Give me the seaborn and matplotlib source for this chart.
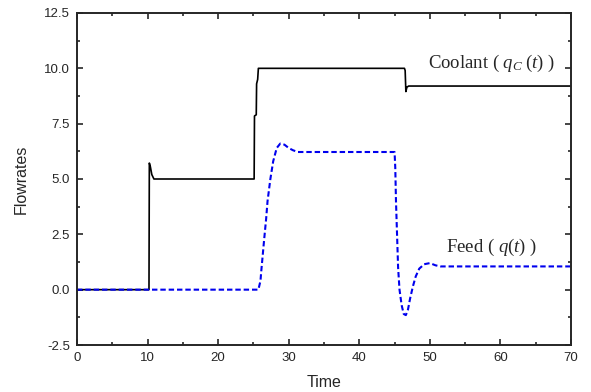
import numpy as np
import pandas as pd
import matplotlib
matplotlib.use("Agg")
import matplotlib.pyplot as plt
from matplotlib.ticker import FormatStrFormatter
import seaborn as sns

# coolant flowrate q_C(t)
coolant_t = [0, 10.2, 10.25, 10.4, 10.6, 10.9, 25.1, 25.15, 25.4, 25.45, 25.6, 25.7, 46.4, 46.5, 46.6, 46.75, 47.0, 70]
coolant_q = [0, 0, 5.72, 5.55, 5.2, 5.0, 5.0, 7.85, 7.9, 9.3, 9.5, 10.0, 10.0, 9.9, 8.95, 9.15, 9.2, 9.2]

# feed flowrate q(t)
feed_t = [0, 25.7, 26.0, 26.1, 26.3, 26.5, 26.8, 27.0, 27.4, 27.8, 28.3, 28.8, 29.4, 30.0, 30.6, 31.3,
          45.0, 45.1, 45.2, 45.35, 45.5, 45.7, 46.0, 46.3, 46.6, 46.9, 47.2, 47.6, 48.0, 48.5, 49.2,
          50.0, 50.8, 51.5, 70]
feed_q = [0, 0, 0.4, 0.8, 1.5, 2.2, 3.2, 4.0, 5.0, 5.8, 6.4, 6.6, 6.55, 6.4, 6.3, 6.22,
          6.22, 5.5, 4.0, 2.5, 1.0, 0.0, -0.7, -1.1, -1.15, -0.9, -0.4, 0.15, 0.6, 0.95, 1.15,
          1.2, 1.1, 1.05, 1.05]

sns.set_style("ticks")
plt.rcParams['font.family'] = ['Liberation Sans', 'DejaVu Sans']
plt.rcParams['mathtext.fontset'] = 'custom'
plt.rcParams['mathtext.rm'] = 'Liberation Serif'
plt.rcParams['mathtext.it'] = 'Liberation Serif:italic'

fig = plt.figure(figsize=(5.91, 3.92), dpi=100)
ax = fig.add_axes([77 / 591, 1 - 345 / 392, 494 / 591, 332 / 392])

coolant = pd.DataFrame({'Time': coolant_t, 'Flowrates': coolant_q})
feed = pd.DataFrame({'Time': feed_t, 'Flowrates': feed_q})

sns.lineplot(data=coolant, x='Time', y='Flowrates', color='black', lw=1.2, ax=ax)
sns.lineplot(data=feed, x='Time', y='Flowrates', color='#0000ee', lw=1.5, ax=ax,
             linestyle=(0, (2.6, 1.4)))

ax.set_xlim(0, 70)
ax.set_ylim(-2.5, 12.5)
ax.set_xticks(np.arange(0, 71, 10))
ax.set_xticks(np.arange(5, 70, 10), minor=True)
ax.set_yticks(np.arange(-2.5, 12.6, 2.5))
ax.set_yticks(np.arange(-1.25, 12.5, 2.5), minor=True)
ax.yaxis.set_major_formatter(FormatStrFormatter('%.1f'))
ax.tick_params(which='both', direction='in', top=True, right=True, labelsize=9.5)
ax.tick_params(which='major', length=4, width=1.2, pad=5)
ax.tick_params(which='minor', length=2.5, width=1.2)
for s in ax.spines.values():
    s.set_linewidth(1.4)

ax.set_xlabel('Time', fontsize=11.5, labelpad=8)
ax.set_ylabel('Flowrates', fontsize=11.5, labelpad=11)

ax.text(58.7, 10.0, r'Coolant ( $q_C\;(t)$ )', fontsize=13.5,
        family='Liberation Serif', ha='center', va='baseline')
ax.text(58.7, 1.7, r'Feed ( $q(t)$ )', fontsize=13.5,
        family='Liberation Serif', ha='center', va='baseline')

fig.savefig('out.png', dpi=100)
